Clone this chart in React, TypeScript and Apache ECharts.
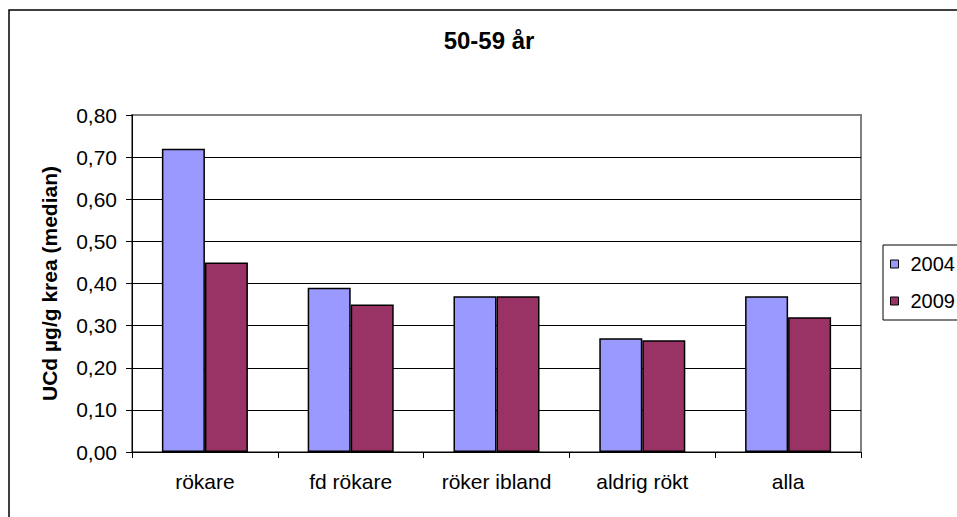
import React, { useEffect, useRef } from "react";
import * as echarts from "echarts";

const categories = ["rökare", "fd rökare", "röker ibland", "aldrig rökt", "alla"];
const seriesNames = ["2004", "2009"];
const values2004 = [0.72, 0.39, 0.37, 0.27, 0.37];
const values2009 = [0.45, 0.35, 0.37, 0.265, 0.32];
const seriesColors = ["#9999FF", "#993366"];
const yTicks = { min: 0, max: 0.8, interval: 0.1 };

const FONT = "'Liberation Sans', Arial, sans-serif";

export default function App() {
  const ref = useRef<HTMLDivElement>(null);

  useEffect(() => {
    if (!ref.current) return;
    const chart = echarts.init(ref.current, null, { renderer: "svg" });
    const seriesData = [values2004, values2009];

    // Gridlines are black except the top one, which sits on the grey plot border.
    const splitColors = Array.from({ length: 9 }, (_, i) => (i === 8 ? "#808080" : "#000"));

    chart.setOption({
      animation: false,
      backgroundColor: "#fff",
      textStyle: { fontFamily: FONT },
      title: {
        text: "50-59 år",
        left: 489,
        top: 28,
        textAlign: "center",
        padding: 0,
        textStyle: { fontFamily: FONT, fontSize: 24, fontWeight: "bold", color: "#000" },
      },
      graphic: [
        {
          type: "rect",
          shape: { x: 9, y: 10, width: 1000, height: 600 },
          style: { fill: "none", stroke: "#000", lineWidth: 1.5 },
          silent: true,
        },
      ],
      legend: {
        orient: "vertical",
        left: 883,
        top: 245,
        padding: [9, 6, 9, 7],
        itemGap: 17,
        itemWidth: 8,
        itemHeight: 8,
        icon: "rect",
        borderColor: "#000",
        borderWidth: 1,
        backgroundColor: "#fff",
        itemStyle: { borderColor: "#000", borderWidth: 1 },
        textStyle: { fontFamily: FONT, fontSize: 20, color: "#000", padding: [0, 0, 0, 7] },
        data: seriesNames,
      },
      grid: {
        left: 132,
        top: 115,
        right: 96,
        bottom: 65,
        show: true,
        borderColor: "#808080",
        borderWidth: 2,
        backgroundColor: "#fff",
      },
      xAxis: {
        type: "category",
        data: categories,
        axisLine: { lineStyle: { color: "#000", width: 1 } },
        axisTick: { show: true, length: 6, lineStyle: { color: "#000" } },
        axisLabel: { fontFamily: FONT, fontSize: 21, color: "#000", margin: 19 },
        splitLine: { show: false },
      },
      yAxis: {
        type: "value",
        min: yTicks.min,
        max: yTicks.max,
        interval: yTicks.interval,
        name: "UCd µg/g krea (median)",
        nameLocation: "middle",
        nameRotate: 90,
        nameGap: 72,
        nameTextStyle: { fontFamily: FONT, fontSize: 21, fontWeight: "bold", color: "#000" },
        axisLine: { show: true, lineStyle: { color: "#000", width: 1 } },
        axisTick: { show: true, length: 6, lineStyle: { color: "#000" } },
        axisLabel: {
          fontFamily: FONT,
          fontSize: 21,
          color: "#000",
          margin: 15,
          formatter: (v: number) => v.toFixed(2).replace(".", ","),
        },
        splitLine: { show: true, lineStyle: { color: splitColors, width: 1 } },
      },
      series: seriesNames.map((name, i) => ({
        name,
        type: "bar",
        data: seriesData[i],
        barGap: "0%",
        barCategoryGap: "41%",
        itemStyle: { color: seriesColors[i], borderColor: "#000", borderWidth: 1.5 },
      })),
    });

    return () => chart.dispose();
  }, []);

  return (
    <div
      ref={ref}
      style={{ position: "fixed", left: 0, top: 0, width: 957, height: 517 }}
    />
  );
}
